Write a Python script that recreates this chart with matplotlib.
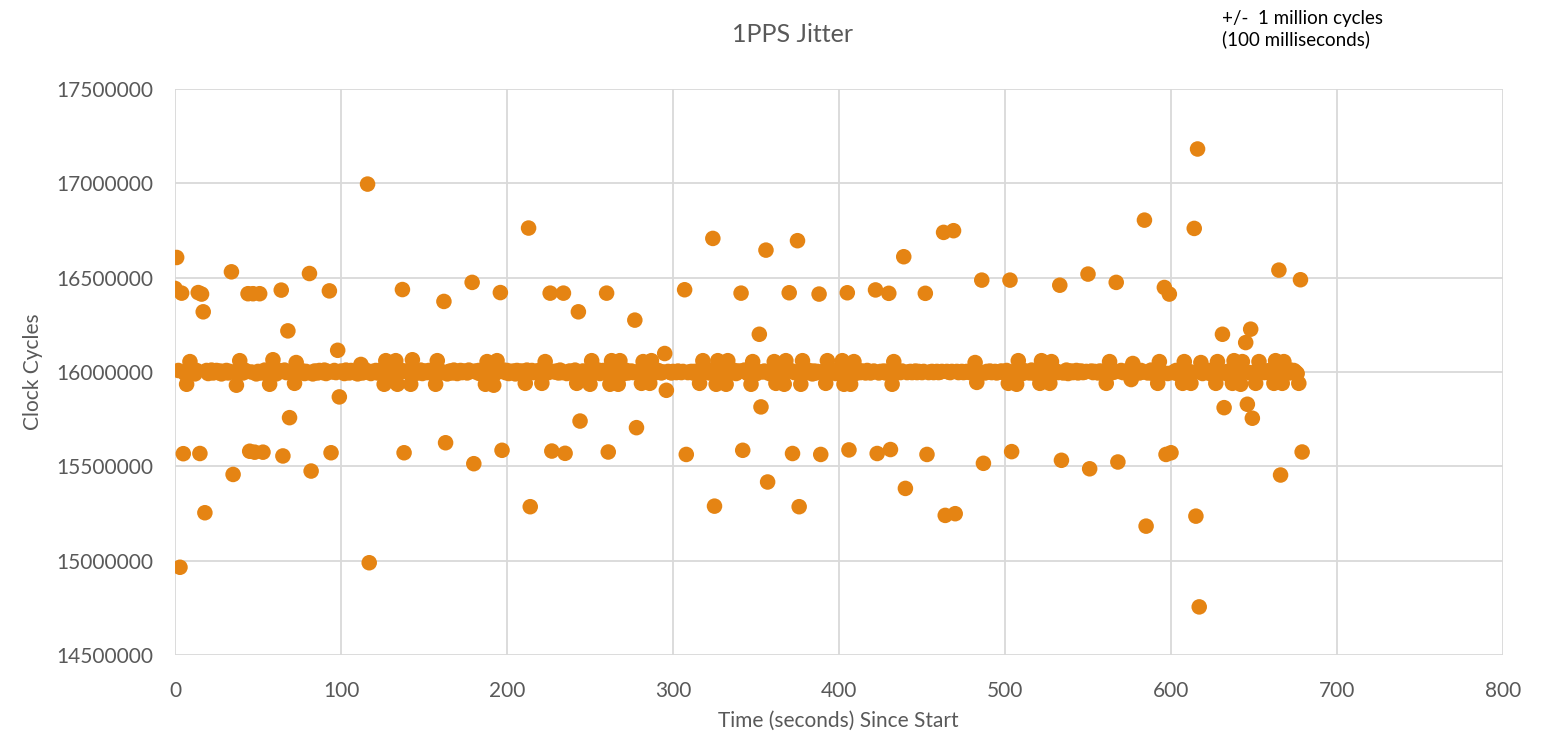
import numpy as np
import matplotlib
matplotlib.use('Agg')
import matplotlib.pyplot as plt

# 1PPS jitter: clock cycles counted between successive pulses, one per second
BASE = 16000000

# small jitter of the main band, kilo-cycles from BASE, seconds 0..679
band_k = [
    3, -5, 8, -3, 0, 5, -8, 10, 3, -3, 5, 0, -10, 8, 3, -5, 0, 5, -3, 8,
    -8, 3, 10, -5, 0, 8, -3, 5, -10, 3, 0, 8, -5, 3, 10, -8, 0, 5, -3, 8,
    0, -5, 10, 3, -8, 5, 0, -3, 8, -10, 3, 5, -5, 0, 10, -3, 8, -8, 3, 0,
    5, -10, 3, 8, -5, 0, 10, -3, 5, -8, 3, 0, -5, 8, 10, -3, 0, 5, -8, 3,
    -3, 8, 0, -10, 5, 3, -5, 8, 0, -3, 10, -8, 3, 5, -5, 0, 8, -3, 3, -10,
    5, 0, -8, 10, 3, -5, 8, 0, -3, 5, -10, 3, 8, -5, 0, 10, -3, 5, -8, 3,
    0, 8, -5, 3, 10, -3, 5, -8, 0, 3, -10, 8, 5, -3, 0, -5, 10, 3, -8, 5,
    3, -3, 8, 0, -10, 5, -5, 3, 10, -8, 0, 5, -3, 8, 3, -5, 0, 10, -8, 3,
    5, -3, 0, 8, -10, 3, 5, -5, 10, 0, -8, 3, 8, -3, 5, 0, -5, 10, 3, -8,
    0, 5, -3, 8, -10, 3, 0, 5, -5, 10, -3, 8, 0, -8, 3, 5, -5, 0, 10, -3,
    8, -8, 3, 0, 5, -10, 8, -3, 3, 5, -5, 0, 10, -8, 3, 8, -3, 0, 5, -5,
    10, 3, -8, 0, 5, -3, 8, -10, 3, 0, 5, -5, 10, -3, 8, 0, -8, 3, 5, -5,
    0, 10, -3, 8, -8, 3, 5, 0, -10, 8, -3, 5, 3, -5, 0, 10, -8, 3, 8, -3,
    5, 0, -5, 10, 3, -8, 8, -3, 0, 5, -10, 3, 8, -5, 0, 5, -3, 10, -8, 3,
    0, 8, -5, 3, 5, -3, 10, -8, 0, 5, -3, 8, 3, -5, 0, 5, -3, 3, 0, -5,
    3, 0, -3, 5, 0, -3, 3, 0, 5, -3, 0, 3, -5, 3, 0, 5, -3, 8, -5, 3,
    0, 8, -5, 10, 3, -8, 5, 0, -3, 8, -10, 3, 5, -5, 0, 10, -3, 8, -8, 3,
    5, 0, -5, 10, 3, -8, 8, -3, 0, 5, -10, 3, 8, -5, 0, 5, -3, 10, -8, 3,
    0, 8, -5, 3, 10, -3, 5, -8, 0, 3, -10, 8, 5, -3, 0, -5, 10, 3, -8, 5,
    3, -3, 8, 0, -10, 5, -5, 3, 10, -8, 0, 5, -3, 8, 3, -5, 0, 10, -8, 3,
    5, -3, 0, 8, -10, 3, 5, -5, 10, 0, -8, 3, 8, -3, 5, 0, -5, 8, 3, -5,
    0, 5, -3, 8, -5, 3, 0, 5, -5, 3, 8, -3, 0, 5, -5, 3, 0, -3, 5, 0,
    3, -3, 0, 3, -3, 0, 5, -3, 3, 0, -3, 3, 0, 3, -3, 0, 3, -3, 0, 3,
    -3, 0, 3, 0, -3, 3, 0, -3, 3, 0, 0, 3, -3, 0, 3, -3, 0, 3, 0, -3,
    3, 0, -3, 5, 0, -3, 3, 0, -5, 3, 0, 5, -3, 0, 3, -5, 0, 3, 5, -3,
    0, 8, -5, 3, 10, -3, 5, -8, 0, 3, -10, 8, 5, -3, 0, -5, 10, 3, -8, 5,
    3, -3, 8, 0, -10, 5, -5, 3, 10, -8, 0, 5, -3, 8, 3, -5, 0, 10, -8, 3,
    5, -3, 0, 8, -5, 3, 5, -3, 0, 3, -5, 0, 5, -3, 3, 0, -5, 5, 3, -3,
    0, 5, -3, 8, -5, 3, 0, 5, -8, 3, 8, -3, 0, 5, -5, 3, 0, -3, 5, 0,
    3, -5, 8, 0, -10, 5, -5, 3, 10, -8, 0, 5, -3, 8, 3, -5, 0, 10, -8, 3,
    5, -3, 0, 8, -10, 3, 5, -5, 10, 0, -8, 3, 8, -3, 5, 0, -5, 10, 3, -8,
    0, 5, -3, 8, -10, 3, 0, 5, -5, 10, -3, 8, 0, -8, 3, 5, -5, 0, 10, -3,
    8, -8, 3, 0, 5, -10, 8, -3, 3, 5, -5, 0, 10, -8, 3, 8, -3, 0, 5, -5,
    10, 3, -8, 0, 5, -3, 8, -10, 3, 0, 5, -5, 10, -3, 8, 0, -8, 3, 5, -5,
]

# excursions (second, kilo-cycles from BASE); these replace the band value
excursion_t = [
    0, 1, 3, 4, 5, 7, 9, 14, 15, 16, 17, 18, 34, 35, 37, 39, 44, 45, 47, 48,
    51, 53, 57, 59, 64, 65, 68, 69, 72, 73, 81, 82, 93, 94, 98, 99, 112, 116, 117, 126,
    127, 133, 134, 137, 138, 142, 143, 157, 158, 162, 163, 179, 180, 187, 188, 192, 194, 196, 197, 211,
    213, 214, 221, 223, 226, 227, 234, 235, 242, 243, 244, 250, 251, 260, 261, 262, 263, 267, 268, 277,
    278, 281, 282, 286, 287, 295, 296, 307, 308, 316, 318, 324, 325, 326, 327, 332, 333, 341, 342, 347,
    348, 352, 353, 356, 357, 361, 362, 367, 368, 370, 372, 375, 376, 377, 378, 388, 389, 392, 393, 402,
    403, 405, 406, 407, 409, 422, 423, 430, 431, 432, 433, 439, 440, 452, 453, 463, 464, 469, 470, 482,
    483, 486, 487, 502, 503, 504, 507, 508, 521, 522, 527, 528, 533, 534, 550, 551, 561, 563, 567, 568,
    576, 577, 584, 585, 592, 593, 596, 597, 599, 600, 607, 608, 612, 614, 615, 616, 617, 618, 627, 628,
    631, 632, 637, 638, 642, 643, 645, 646, 648, 649, 651, 653, 662, 663, 665, 666, 667, 668, 677, 678,
    679,
]
excursion_k = [
    443, 607, -1035, 418, -433, -65, 55, 421, -432, 413, 319, -746, 531, -543, -70, 60, 415, -420, 415, -425,
    415, -425, -65, 65, 434, -445, 218, -242, -60, 50, 522, -525, 430, -428, 115, -132, 40, 996, -1011, -65,
    60, 60, -65, 437, -428, -65, 65, -65, 60, 374, -375, 475, -486, -65, 55, -70, 60, 421, -415, -60,
    763, -714, -60, 55, 418, -419, 418, -431, -60, 319, -260, -65, 60, 418, -424, -65, 60, -65, 60, 275,
    -295, -60, 55, -60, 60, 98, -97, 436, -437, -60, 60, 708, -711, -65, 60, -65, 60, 418, -415, -65,
    55, 200, -185, 646, -583, 55, -60, -65, 60, 420, -432, 696, -714, -65, 60, 413, -437, -60, 60, 60,
    -65, 420, -413, -65, 55, 435, -432, 417, -411, -65, 55, 611, -617, 417, -437, 740, -760, 749, -751, 50,
    -55, 487, -484, -60, 487, -422, -65, 60, -60, 60, -60, 55, 460, -468, 519, -513, -60, 55, 475, -477,
    -40, 45, 805, -817, -60, 55, 448, -437, 413, -428, -60, 55, -60, 761, -764, 1182, -1245, 50, -60, 55,
    200, -189, -60, 60, -65, 55, 156, -171, 227, -245, -60, 55, -60, 60, 540, -546, -60, 55, -60, 489,
    -424,
]

X_TICKS = [0, 100, 200, 300, 400, 500, 600, 700, 800]
Y_TICKS = [14500000, 15000000, 15500000, 16000000, 16500000, 17000000, 17500000]

GREY = '#595959'
ORANGE = '#E58413'
FONT = ['Lato', 'DejaVu Sans']

plt.rcParams['font.family'] = FONT

t = np.arange(len(band_k))
y = BASE + 1000 * np.array(band_k, dtype=float)
y[np.array(excursion_t)] = BASE + 1000 * np.array(excursion_k, dtype=float)

fig = plt.figure(figsize=(15.45, 7.39), dpi=100)
ax = fig.add_axes([175 / 1545, 1 - 655 / 739, 1328 / 1545, 566 / 739])

ax.scatter(t, y, s=125, color=ORANGE, edgecolors='none', zorder=3)

ax.set_xlim(0, 800)
ax.set_ylim(14500000, 17500000)
ax.set_xticks(X_TICKS)
ax.set_yticks(Y_TICKS)
ax.set_xticklabels([str(v) for v in X_TICKS])
ax.set_yticklabels([str(v) for v in Y_TICKS])
ax.grid(True, color='#D9D9D9', linewidth=1.3, zorder=0)
ax.set_axisbelow(True)
for s in ax.spines.values():
    s.set_visible(False)
ax.tick_params(axis='both', length=0, labelsize=15, labelcolor=GREY)
ax.tick_params(axis='x', pad=19)
ax.tick_params(axis='y', pad=16)

fig.text(793 / 1545, 1 - 34 / 739, '1PPS Jitter', ha='center', va='center',
         fontsize=18, color=GREY)
fig.text(33 / 1545, 1 - 372 / 739, 'Clock Cycles', ha='center', va='center',
         rotation=90, fontsize=15, color=GREY)
fig.text(838 / 1545, 1 - 721 / 739, 'Time (seconds) Since Start', ha='center', va='center',
         fontsize=15, color=GREY)
fig.text(1222 / 1545, 1 - 10 / 739, '+/-  1 million cycles\n(100 milliseconds)', ha='left', va='top',
         fontsize=13.5, color='black', linespacing=1.2)

fig.savefig('out.png', dpi=100)
